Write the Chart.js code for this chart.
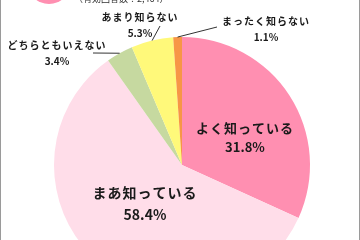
<!DOCTYPE html>
<html lang="ja">
  <head>
    <meta charset="UTF-8" />
    <title>認知度</title>
    <style>
      html, body { margin: 0; padding: 0; background: #fff; overflow: hidden; }
      #frame { position: relative; width: 360px; height: 240px; overflow: hidden; }
      #wrap { position: absolute; left: 0; top: 0; width: 360px; height: 340px; }
      #frame:before, #frame:after {
        content: ""; position: absolute; top: 0; bottom: 0; width: 1px; background: #9a9a9a; z-index: 2;
      }
      #frame:before { left: 0; }
      #frame:after { right: 0; }
    </style>
  </head>
  <body>
    <div id="frame">
      <div id="wrap"><canvas id="pieChart"></canvas></div>
    </div>

    <script src="https://cdn.jsdelivr.net/npm/chart.js"></script>
    <script>
      const labels = ["よく知っている", "まあ知っている", "どちらともいえない", "あまり知らない", "まったく知らない"];
      const values = [31.8, 58.4, 3.4, 5.3, 1.1];
      const colors = ["#ff8fb1", "#ffdde9", "#c6d9a0", "#fff97a", "#f79646"];
      const note = "（有効回答数：2,464）";

      // label placement: inside labels sit on the slice, outside ones get a leader line
      const labelSpots = [
        { x: 245, y: 128, size: 13, inside: true },
        { x: 145, y: 193, size: 14, inside: true, gap: 22 },
        { x: 57, y: 45, size: 10, lineTo: [93, 53] },
        { x: 140, y: 17, size: 10, lineTo: [160, 26] },
        { x: 266, y: 21, size: 10, lineTo: [217, 27] },
      ];

      const labelPlugin = {
        id: "sliceLabels",
        afterDatasetsDraw(chart) {
          const ctx = chart.ctx;
          const arcs = chart.getDatasetMeta(0).data;
          ctx.save();
          // title decoration, cut off by the top edge
          ctx.fillStyle = "#ff8fb1";
          ctx.beginPath();
          ctx.arc(49, -18, 22, 0, Math.PI * 2);
          ctx.fill();
          ctx.fillStyle = "#333";
          ctx.font = "9px 'Noto Sans CJK JP'";
          ctx.textAlign = "left";
          ctx.textBaseline = "alphabetic";
          ctx.fillText(note, 74, 2);

          arcs.forEach((arc, i) => {
            const s = labelSpots[i];
            if (s.lineTo) {
              const mid = (arc.startAngle + arc.endAngle) / 2;
              ctx.strokeStyle = "#333";
              ctx.lineWidth = 1;
              ctx.beginPath();
              ctx.moveTo(arc.x + Math.cos(mid) * arc.outerRadius, arc.y + Math.sin(mid) * arc.outerRadius);
              ctx.lineTo(s.lineTo[0], s.lineTo[1]);
              ctx.stroke();
            }
            ctx.fillStyle = "#1a1a1a";
            ctx.textAlign = "center";
            ctx.textBaseline = "middle";
            ctx.font = "bold " + s.size + "px 'Noto Sans CJK JP'";
            ctx.letterSpacing = "1px";
            ctx.fillText(labels[i], s.x, s.y);
            ctx.letterSpacing = "0px";
            ctx.fillText(values[i].toFixed(1) + "%", s.x, s.y + (s.gap || s.size + 6));
          });
          ctx.restore();
        },
      };

      new Chart(document.querySelector("#pieChart"), {
        type: "pie",
        data: {
          labels: labels,
          datasets: [{ data: values, backgroundColor: colors, borderWidth: 0 }],
        },
        options: {
          responsive: true,
          maintainAspectRatio: false,
          animation: false,
          layout: { padding: { left: 54, right: 50, top: 37, bottom: 47 } },
          plugins: { legend: { display: false }, tooltip: { enabled: false } },
        },
        plugins: [labelPlugin],
      });
    </script>
  </body>
</html>
